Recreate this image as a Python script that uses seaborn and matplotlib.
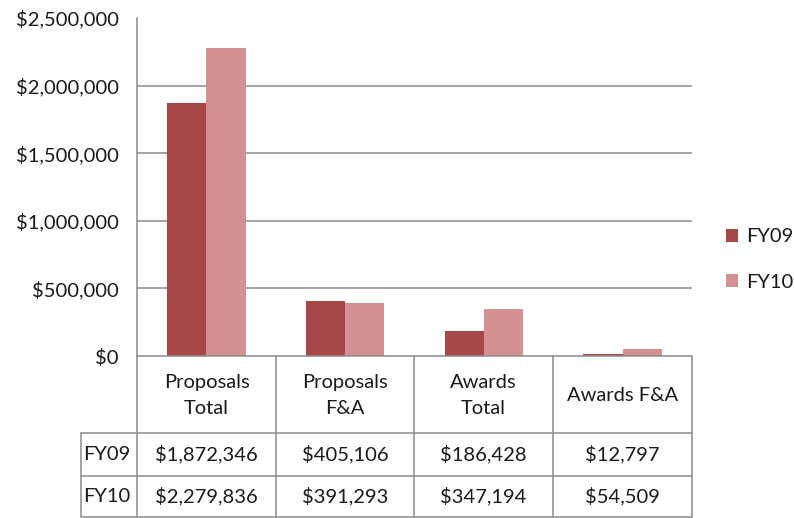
import matplotlib
matplotlib.use("Agg")
import matplotlib.pyplot as plt
import seaborn as sns
import pandas as pd
from matplotlib.lines import Line2D
from matplotlib.patches import Patch

categories = ["Proposals\nTotal", "Proposals\nF&A", "Awards\nTotal", "Awards F&A"]
series_names = ["FY09", "FY10"]
fy09 = [1872346, 405106, 186428, 12797]
fy10 = [2279836, 391293, 347194, 54509]
yticks = [0, 500000, 1000000, 1500000, 2000000, 2500000]

colors = {"FY09": "#A84747", "FY10": "#D49191"}

df = pd.DataFrame({
    "cat": categories * 2,
    "series": ["FY09"] * 4 + ["FY10"] * 4,
    "value": fy09 + fy10,
})

sns.set_theme(style="white")
plt.rcParams["font.family"] = ["Lato", "DejaVu Sans"]
W, H = 794, 518
fig = plt.figure(figsize=(W / 100, H / 100), dpi=100)

def fx(x):
    return x / W

def fy(y):
    return 1 - y / H

left, right, top, bottom = 137, 692, 18, 356
ax = fig.add_axes([fx(left), fy(bottom), fx(right) - fx(left), fy(top) - fy(bottom)])

sns.barplot(data=df, x="cat", y="value", hue="series", palette=colors,
            width=0.565, gap=0, ax=ax, legend=False, saturation=1,
            edgecolor="none", linewidth=0)

fs = 14.5
tc = "#1a1a1a"
ax.set_ylim(0, 2500000)
ax.set_xlim(-0.5, 3.5)
ax.set_yticks(yticks)
ax.set_yticklabels(["${:,.0f}".format(v) for v in yticks], fontsize=fs, color=tc)
ax.tick_params(axis="y", length=0, pad=13)
ax.set_xticks([])
ax.set_xlabel("")
ax.set_ylabel("")
for v in yticks[1:-1]:
    ax.axhline(v, color="#8c8c8c", lw=1.1, zorder=0)
for s in ["top", "right", "bottom"]:
    ax.spines[s].set_visible(False)
ax.spines["left"].set_color("#8c8c8c")
ax.spines["left"].set_linewidth(1.1)

# data table
lc = "#8c8c8c"
def hline(x0, x1, y):
    fig.add_artist(Line2D([fx(x0), fx(x1)], [fy(y), fy(y)], color=lc, lw=1.1))

def vline(x, y0, y1):
    fig.add_artist(Line2D([fx(x), fx(x)], [fy(y0), fy(y1)], color=lc, lw=1.1))

rows_y = [356, 433, 476, 517]
col_x = [137, 276, 414, 553, 692]
hline(137, 692, 356)
hline(81, 692, 433)
hline(81, 692, 476)
hline(81, 692, 517)
for x in col_x:
    vline(x, 356, 517)
vline(81, 433, 517)

for i, c in enumerate(categories):
    cx = (col_x[i] + col_x[i + 1]) / 2
    fig.text(fx(cx), fy((rows_y[0] + rows_y[1]) / 2 + 1), c, ha="center", va="center",
             fontsize=fs, color=tc, linespacing=1.65)
for r, (name, vals) in enumerate(zip(series_names, [fy09, fy10])):
    cy = (rows_y[r + 1] + rows_y[r + 2]) / 2
    fig.text(fx(83), fy(cy), name, ha="left", va="center", fontsize=fs, color=tc)
    for i, v in enumerate(vals):
        cx = (col_x[i] + col_x[i + 1]) / 2
        fig.text(fx(cx), fy(cy), "${:,.0f}".format(v), ha="center", va="center",
                 fontsize=fs, color=tc)

handles = [Patch(facecolor=colors[s], edgecolor="none", label=s) for s in series_names]
fig.legend(handles=handles, loc="center left", bbox_to_anchor=(fx(726), fy(259.5)),
           frameon=False, fontsize=fs, handlelength=0.6, handleheight=0.6,
           handletextpad=0.4, labelspacing=1.4, labelcolor=tc, borderpad=0,
           borderaxespad=0)

fig.savefig("out.png", dpi=100)
